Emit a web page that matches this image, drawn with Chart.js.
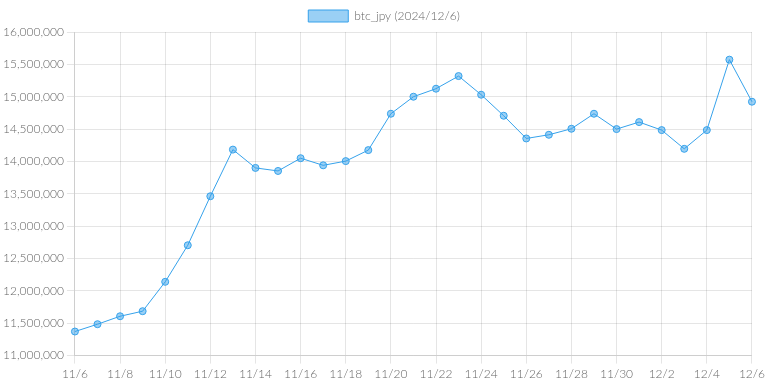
<!DOCTYPE html>
<html>
<head>
<meta charset="utf-8">
<script src="https://cdn.jsdelivr.net/npm/chart.js@4/dist/chart.umd.min.js"></script>
<style>
  html, body { margin: 0; padding: 0; background: #fff; }
  #wrap { width: 768px; height: 384px; }
</style>
</head>
<body>
<div id="wrap"><canvas id="chart"></canvas></div>
<script>
// daily btc_jpy close, 11/6 .. 12/6
var labels = ["11/6","11/7","11/8","11/9","11/10","11/11","11/12","11/13","11/14","11/15",
  "11/16","11/17","11/18","11/19","11/20","11/21","11/22","11/23","11/24","11/25",
  "11/26","11/27","11/28","11/29","11/30","12/1","12/2","12/3","12/4","12/5","12/6"];
var prices = [11372000, 11485000, 11608000, 11686000, 12140000, 12705000, 13462000, 14183000, 13900000, 13853000,
  14050000, 13940000, 14005000, 14175000, 14737000, 15000000, 15124000, 15319000, 15031000, 14706000,
  14355000, 14412000, 14505000, 14737000, 14500000, 14608000, 14484000, 14195000, 14484000, 15573000, 14923000];
var seriesName = "btc_jpy (2024/12/6)";
var yMin = 11000000, yMax = 16000000, yStep = 500000;

Chart.defaults.font.family = "Lato";
Chart.defaults.font.size = 12;
Chart.defaults.font.weight = "300";
Chart.defaults.color = "#666";

var ctx = document.getElementById("chart").getContext("2d");
var myChart = new Chart(ctx, {
  type: "line",
  data: {
    labels: labels,
    datasets: [{
      label: seriesName,
      data: prices,
      borderColor: "rgb(54, 162, 235)",
      backgroundColor: "rgba(54, 162, 235, 0.5)",
      borderWidth: 1,
      pointRadius: 3.5,
      pointBorderWidth: 1,
      tension: 0,
      fill: false
    }]
  },
  options: {
    responsive: true,
    maintainAspectRatio: false,
    animation: false,
    plugins: {
      legend: {
        display: true,
        labels: { boxWidth: 40, boxHeight: 12 }
      },
      tooltip: { enabled: false }
    },
    scales: {
      x: {
        ticks: { maxRotation: 0, autoSkip: true },
        grid: { color: "rgba(0,0,0,0.1)" }
      },
      y: {
        min: yMin,
        max: yMax,
        ticks: {
          stepSize: yStep,
          callback: function (v) { return v.toLocaleString("en-US"); }
        },
        grid: { color: "rgba(0,0,0,0.1)" }
      }
    }
  }
});
</script>
</body>
</html>
